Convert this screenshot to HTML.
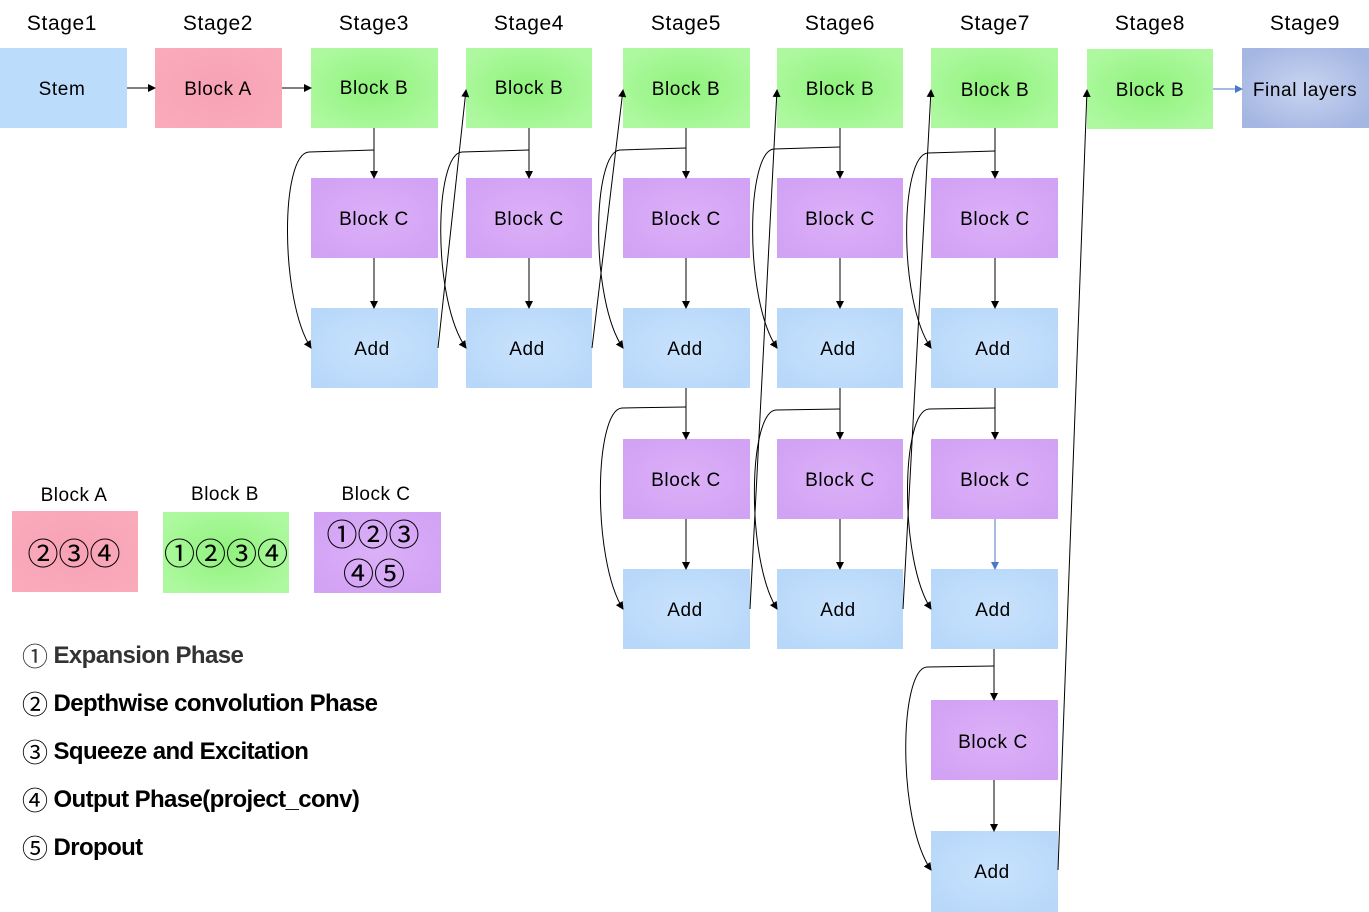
<!DOCTYPE html>
<html><head><meta charset="utf-8"><style>
html,body{margin:0;padding:0;background:#fff}
svg{display:block;font-family:"Liberation Sans","DejaVu Sans",sans-serif}
.cj{font-family:"Noto Sans CJK JP","DejaVu Sans",sans-serif;font-weight:normal}
</style></head><body>
<svg width="1369" height="912" viewBox="0 0 1369 912" xmlns="http://www.w3.org/2000/svg">
<defs>
<radialGradient id="gB" cx="50%" cy="50%" r="60%"><stop offset="0" stop-color="#90f27c"/><stop offset="1" stop-color="#aef9a0"/></radialGradient>
<radialGradient id="gC" cx="50%" cy="50%" r="60%"><stop offset="0" stop-color="#dcb0f8"/><stop offset="1" stop-color="#d2a2f4"/></radialGradient>
<radialGradient id="gAdd" cx="50%" cy="50%" r="60%"><stop offset="0" stop-color="#c8e2fc"/><stop offset="1" stop-color="#b8d8fa"/></radialGradient>
<radialGradient id="gA" cx="50%" cy="50%" r="60%"><stop offset="0" stop-color="#f8a2b4"/><stop offset="1" stop-color="#f9aabb"/></radialGradient>
<radialGradient id="gF" cx="50%" cy="50%" r="60%"><stop offset="0" stop-color="#c8d4f0"/><stop offset="1" stop-color="#a4b6e2"/></radialGradient>
<marker id="ar" markerWidth="8" markerHeight="8" refX="7" refY="4" orient="auto" markerUnits="userSpaceOnUse"><path d="M0,0 L8,4 L0,8 z" fill="#000"/></marker>
<marker id="arb" markerWidth="8" markerHeight="8" refX="7" refY="4" orient="auto" markerUnits="userSpaceOnUse"><path d="M0,0 L8,4 L0,8 z" fill="#4a78c8"/></marker>
</defs>

<g font-size="21" text-anchor="middle" fill="#000" letter-spacing="0.6">
<text x="62" y="30">Stage1</text><text x="218" y="30">Stage2</text><text x="374" y="30">Stage3</text>
<text x="529" y="30">Stage4</text><text x="686" y="30">Stage5</text><text x="840" y="30">Stage6</text>
<text x="995" y="30">Stage7</text><text x="1150" y="30">Stage8</text><text x="1305" y="30">Stage9</text>
</g>

<g>
<rect x="0" y="48" width="127" height="80" fill="#bcdcfc"/>
<rect x="155" y="48" width="127" height="80" fill="url(#gA)"/>
<rect x="1242" y="48" width="127" height="80" fill="url(#gF)"/>
<rect x="1087" y="49" width="126" height="80" fill="url(#gB)"/>
</g>
<g fill="url(#gB)">
<rect x="311" y="48" width="127" height="80"/><rect x="466" y="48" width="126" height="80"/>
<rect x="623" y="48" width="127" height="80"/><rect x="777" y="48" width="126" height="80"/>
<rect x="931" y="48" width="127" height="80"/>
</g>
<g fill="url(#gC)">
<rect x="311" y="178" width="127" height="80"/><rect x="466" y="178" width="126" height="80"/>
<rect x="623" y="178" width="127" height="80"/><rect x="777" y="178" width="126" height="80"/>
<rect x="931" y="178" width="127" height="80"/>
<rect x="623" y="439" width="127" height="80"/><rect x="777" y="439" width="126" height="80"/>
<rect x="931" y="439" width="127" height="80"/>
<rect x="931" y="700" width="127" height="80"/>
</g>
<g fill="url(#gAdd)">
<rect x="311" y="308" width="127" height="80"/><rect x="466" y="308" width="126" height="80"/>
<rect x="623" y="308" width="127" height="80"/><rect x="777" y="308" width="126" height="80"/>
<rect x="931" y="308" width="127" height="80"/>
<rect x="623" y="569" width="127" height="80"/><rect x="777" y="569" width="126" height="80"/>
<rect x="931" y="569" width="127" height="80"/>
<rect x="931" y="831" width="127" height="81"/>
</g>

<g font-size="19" text-anchor="middle" fill="#000" letter-spacing="0.6">
<text x="62" y="95">Stem</text><text x="218" y="95">Block A</text>
<text x="374" y="94">Block B</text><text x="529" y="94">Block B</text><text x="686" y="95">Block B</text>
<text x="840" y="95">Block B</text><text x="995" y="96">Block B</text><text x="1150" y="96">Block B</text>
<text x="1305" y="96">Final layers</text>
<text x="374" y="225">Block C</text><text x="529" y="225">Block C</text><text x="686" y="225">Block C</text>
<text x="840" y="225">Block C</text><text x="995" y="225">Block C</text>
<text x="372" y="355">Add</text><text x="527" y="355">Add</text><text x="685" y="355">Add</text>
<text x="838" y="355">Add</text><text x="993" y="355">Add</text>
<text x="686" y="486">Block C</text><text x="840" y="486">Block C</text><text x="995" y="486">Block C</text>
<text x="685" y="616">Add</text><text x="838" y="616">Add</text><text x="993" y="616">Add</text>
<text x="993" y="748">Block C</text>
<text x="992" y="878">Add</text>
</g>

<g stroke="#000" stroke-width="1" fill="none" marker-end="url(#ar)">
<line x1="127" y1="88" x2="155" y2="88"/>
<line x1="282" y1="88" x2="311" y2="88"/>
<line x1="374" y1="128" x2="374" y2="178"/><line x1="374" y1="258" x2="374" y2="308"/>
<line x1="529" y1="128" x2="529" y2="178"/><line x1="529" y1="258" x2="529" y2="308"/>
<line x1="686" y1="128" x2="686" y2="178"/><line x1="686" y1="258" x2="686" y2="308"/>
<line x1="686" y1="388" x2="686" y2="439"/><line x1="686" y1="519" x2="686" y2="569"/>
<line x1="840" y1="128" x2="840" y2="178"/><line x1="840" y1="258" x2="840" y2="308"/>
<line x1="840" y1="388" x2="840" y2="439"/><line x1="840" y1="519" x2="840" y2="569"/>
<line x1="995" y1="128" x2="995" y2="178"/><line x1="995" y1="258" x2="995" y2="308"/>
<line x1="995" y1="388" x2="995" y2="439"/>
<line x1="994" y1="649" x2="994" y2="700"/><line x1="994" y1="780" x2="994" y2="831"/>
<path d="M374,150 L309,152 C280,154 280,300 311,348"/>
<path d="M529,150 L462,152 C434,154 432,300 466,348"/>
<path d="M686,148 L620,150 C592,152 590,300 623,348"/>
<path d="M840,147 L774,149 C746,151 744,300 777,348"/>
<path d="M995,151 L928,153 C900,155 898,300 931,348"/>
<path d="M686,407 L622,408 C594,410 592,560 623,609"/>
<path d="M840,409 L776,410 C748,412 746,560 777,609"/>
<path d="M995,408 L929,409 C901,411 899,560 931,609"/>
<path d="M994,666 L927,667 C899,669 897,820 931,870"/>
<line x1="438" y1="348" x2="466" y2="90"/>
<line x1="592" y1="348" x2="623" y2="90"/>
<line x1="750" y1="609" x2="777" y2="90"/>
<line x1="903" y1="609" x2="931" y2="90"/>
<line x1="1058" y1="870" x2="1087" y2="90"/>
</g>
<g stroke="#4a78c8" stroke-width="1" fill="none" marker-end="url(#arb)">
<line x1="995" y1="519" x2="995" y2="569"/>
<line x1="1213" y1="89" x2="1242" y2="89"/>
</g>

<g font-size="19" text-anchor="middle" letter-spacing="0.5">
<text x="74" y="501">Block A</text><text x="225" y="500">Block B</text><text x="376" y="500">Block C</text>
</g>
<rect x="12" y="511" width="126" height="81" fill="url(#gA)"/>
<rect x="163" y="512" width="126" height="81" fill="url(#gB)"/>
<rect x="314" y="512" width="127" height="81" fill="url(#gC)"/>
<g font-size="31" text-anchor="middle" fill="#000" class="cj">
<text x="74" y="565">②③④</text>
<text x="226" y="565">①②③④</text>
<text x="373" y="546">①②③</text>
<text x="374" y="585">④⑤</text>
</g>
<g font-size="24" font-weight="bold" fill="#000" letter-spacing="-0.6">
<text x="22" y="663" fill="#333"><tspan class="cj" font-size="26" dy="3">①</tspan><tspan dy="-3"> Expansion Phase</tspan></text>
<text x="22" y="711"><tspan class="cj" font-size="26" dy="3">②</tspan><tspan dy="-3"> Depthwise convolution Phase</tspan></text>
<text x="22" y="759"><tspan class="cj" font-size="26" dy="3">③</tspan><tspan dy="-3"> Squeeze and Excitation</tspan></text>
<text x="22" y="807"><tspan class="cj" font-size="26" dy="3">④</tspan><tspan dy="-3"> Output Phase(project_conv)</tspan></text>
<text x="22" y="855"><tspan class="cj" font-size="26" dy="3">⑤</tspan><tspan dy="-3"> Dropout</tspan></text>
</g>
</svg>
</body></html>
